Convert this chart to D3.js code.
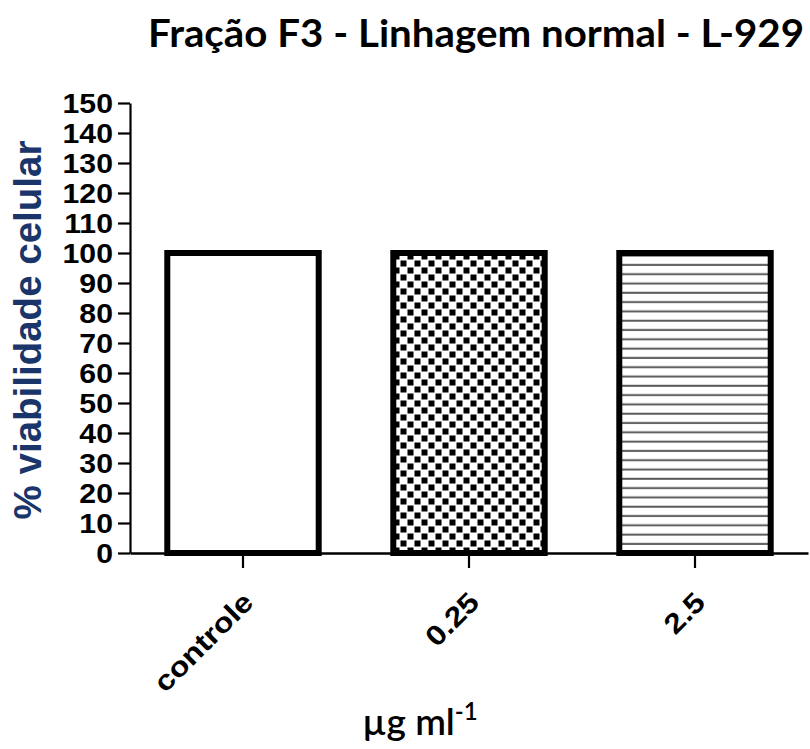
<!DOCTYPE html>
<html>
<head>
<meta charset="utf-8">
<script src="https://cdn.jsdelivr.net/npm/d3@7"></script>
<style>
  html, body { margin: 0; padding: 0; background: #ffffff; }
  svg { display: block; }
</style>
</head>
<body>
<svg id="chart" width="810" height="749"></svg>
<script>
const titleText = "Fração F3 - Linhagem normal - L-929";
const categories = ["controle", "0.25", "2.5"];
const values = [100, 100, 100];
const fills = ["white", "url(#checker)", "url(#hlines)"];
const yTickValues = [0, 10, 20, 30, 40, 50, 60, 70, 80, 90, 100, 110, 120, 130, 140, 150];
const yTitle = "% viabilidade celular";

const svg = d3.select("#chart");
svg.append("rect").attr("width", 810).attr("height", 749).attr("fill", "#fff");

const defs = svg.append("defs");
const chk = defs.append("pattern").attr("id", "checker")
  .attr("patternUnits", "userSpaceOnUse").attr("width", 14).attr("height", 14)
  .attr("x", 1).attr("y", 1);
chk.append("rect").attr("width", 14).attr("height", 14).attr("fill", "#fff");
chk.append("rect").attr("x", 0.5).attr("y", 0.5).attr("width", 6).attr("height", 6).attr("fill", "#000");
chk.append("rect").attr("x", 7.5).attr("y", 7.5).attr("width", 6).attr("height", 6).attr("fill", "#000");

const hl = defs.append("pattern").attr("id", "hlines")
  .attr("patternUnits", "userSpaceOnUse").attr("width", 10).attr("height", 9.3);
hl.append("rect").attr("width", 10).attr("height", 9.3).attr("fill", "#fff");
hl.append("line").attr("x1", 0).attr("x2", 10).attr("y1", 4.5).attr("y2", 4.5)
  .attr("stroke", "#5a5a5a").attr("stroke-width", 2);

const x = d3.scaleBand().domain(categories).range([130, 808])
  .paddingInner(0.33).paddingOuter(0.165);
const y = d3.scaleLinear().domain([0, 150]).range([553, 103]);

// bars
svg.append("g").selectAll("rect").data(categories).join("rect")
  .attr("x", d => x(d))
  .attr("y", (d, i) => y(values[i]))
  .attr("width", x.bandwidth())
  .attr("height", (d, i) => y(0) - y(values[i]))
  .attr("fill", (d, i) => fills[i])
  .attr("stroke", "#000")
  .attr("stroke-width", 6);

// y axis
const yAxis = svg.append("g").attr("transform", "translate(130,0)")
  .call(d3.axisLeft(y).tickValues(yTickValues).tickSize(12).tickSizeOuter(0).tickFormat(d3.format("d")));
yAxis.select(".domain").attr("stroke", "#000").attr("stroke-width", 2.2);
yAxis.selectAll(".tick line").attr("stroke", "#000").attr("stroke-width", 2.2);
yAxis.selectAll(".tick text")
  .attr("x", 0).attr("dy", "0.36em")
  .attr("transform", "translate(-17,0) scale(1.12,1)")
  .attr("font-family", "'Liberation Sans', Arial, sans-serif")
  .attr("font-weight", "bold").attr("font-size", 27).attr("fill", "#000");

// x axis
const xAxis = svg.append("g").attr("transform", "translate(0,553)")
  .call(d3.axisBottom(x).tickSize(15).tickSizeOuter(0));
xAxis.select(".domain").attr("stroke", "#000").attr("stroke-width", 2.5);
xAxis.selectAll(".tick line").attr("stroke", "#000").attr("stroke-width", 2.2);
xAxis.selectAll(".tick text")
  .attr("x", 0).attr("y", 0).attr("dy", 0)
  .attr("text-anchor", "end")
  .attr("transform", "translate(12,51) rotate(-45) scale(1.15,1)")
  .attr("font-family", "'Liberation Sans', Arial, sans-serif")
  .attr("font-weight", "bold").attr("font-size", 28).attr("fill", "#000");

// y title
svg.append("text")
  .attr("transform", "translate(41,330) rotate(-90)")
  .attr("text-anchor", "middle")
  .attr("font-family", "'Liberation Sans', Arial, sans-serif")
  .attr("font-weight", "bold").attr("font-size", 38.5)
  .attr("fill", "#1a356a")
  .text(yTitle);

// title
svg.append("text")
  .attr("x", 148).attr("y", 47)
  .attr("font-family", "Lato, 'Open Sans', sans-serif")
  .attr("font-weight", "bold").attr("font-size", 38)
  .attr("textLength", 656).attr("lengthAdjust", "spacingAndGlyphs")
  .attr("fill", "#000")
  .text(titleText);

// x title
const xt = svg.append("text")
  .attr("x", 420).attr("y", 735)
  .attr("text-anchor", "middle")
  .attr("font-family", "Lato, 'Open Sans', sans-serif")
  .attr("font-weight", 600).attr("font-size", 37)
  .attr("fill", "#000");
xt.append("tspan").text("µg ml");
xt.append("tspan").attr("dy", -15).attr("font-size", 24).text("-1");
</script>
</body>
</html>
